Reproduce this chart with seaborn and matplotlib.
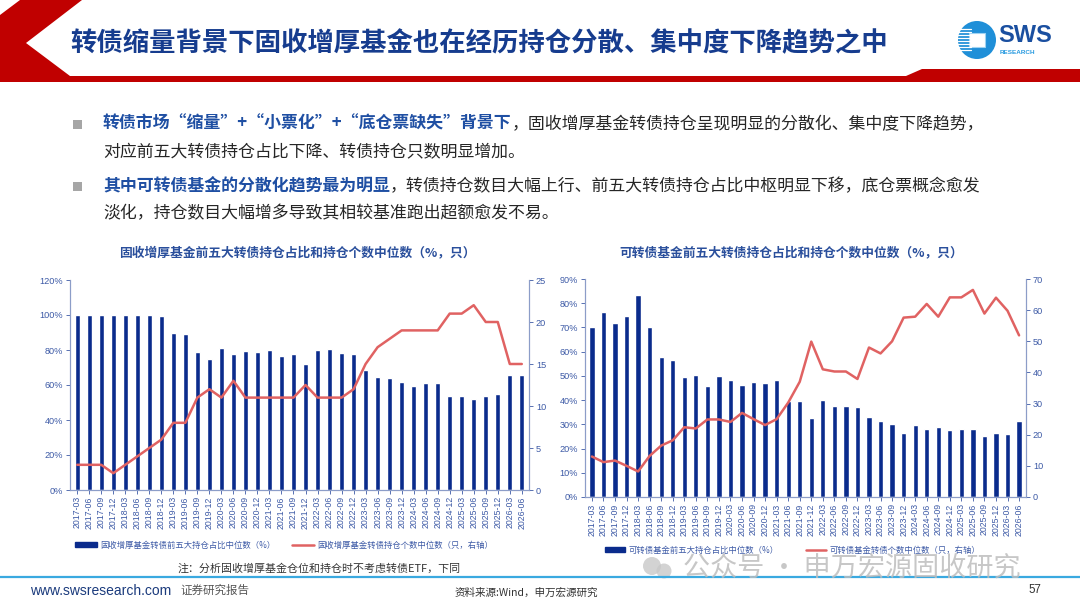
import numpy as np
import matplotlib
matplotlib.use('Agg')
import matplotlib.pyplot as plt
import seaborn as sns
from matplotlib.patches import Polygon, Rectangle, Circle, Patch
from matplotlib.lines import Line2D
from matplotlib.ticker import FuncFormatter

# ---- data ----
quarters = ['2017-03', '2017-06', '2017-09', '2017-12', '2018-03', '2018-06', '2018-09', '2018-12',
            '2019-03', '2019-06', '2019-09', '2019-12', '2020-03', '2020-06', '2020-09', '2020-12',
            '2021-03', '2021-06', '2021-09', '2021-12', '2022-03', '2022-06', '2022-09', '2022-12',
            '2023-03', '2023-06', '2023-09', '2023-12', '2024-03', '2024-06', '2024-09', '2024-12',
            '2025-03', '2025-06', '2025-09', '2025-12', '2026-03', '2026-06']

# 固收增厚基金
zs_top5 = [100, 100, 100, 100, 100, 100, 100, 99.5, 89.5, 89, 79, 75, 81, 78, 79.5, 79, 80, 76.5, 77.5,
           72, 80, 80.5, 78.5, 78, 68.5, 64.5, 64, 62, 59.5, 61, 61, 54, 54, 52, 54, 55, 65.5, 66]
zs_count = [3, 3, 3, 2, 3, 4, 5, 6, 8, 8, 11, 12, 11, 13, 11, 11, 11, 11, 11, 12.5, 11, 11, 11, 12,
            15, 17, 18, 19, 19, 19, 19, 21, 21, 22, 20, 20, 15, 15]

# 可转债基金
kz_top5 = [70.3, 76.2, 71.8, 74.8, 83.2, 70.3, 57.7, 56.4, 49.6, 50.3, 45.9, 50, 48.3, 46.2, 47.6,
           47.2, 48.5, 39.8, 39.8, 32.5, 40, 37.5, 37.7, 37.1, 32.9, 31.5, 30.1, 26.6, 29.8, 28,
           28.7, 27.6, 28, 28.2, 25.2, 26.6, 25.9, 31.5]
kz_count = [13, 11.2, 11.7, 10, 8.2, 13.2, 16.5, 18.2, 22.4, 22, 24.9, 24.9, 24.1, 27, 25, 23.1, 25,
            30.3, 37, 49.9, 41, 40.3, 40.3, 37.9, 48, 46.1, 50, 57.6, 57.9, 62, 57.9, 64.1, 64.1,
            66.5, 58.9, 64, 59.8, 51.9]

BAR = '#0a2b8c'
RED = '#e06262'
TICK = '#3d5aa6'
SPINE = '#8c9dc8'
TITLE = '#163c8e'
BLUE_TXT = '#1f4fa3'

sns.set_theme(style='white')
plt.rcParams['font.family'] = ['Noto Sans CJK SC', 'DejaVu Sans']
plt.rcParams['axes.unicode_minus'] = False

fig = plt.figure(figsize=(10.8, 6.08), dpi=100)

# background canvas in pixel coordinates
bg = fig.add_axes([0, 0, 1, 1])
bg.set_xlim(0, 1080)
bg.set_ylim(608, 0)
bg.axis('off')

# header red chevron + band
bg.add_patch(Polygon([(0, 15), (20, 0), (82, 0), (26, 43), (70, 76), (906, 76), (922, 69),
                      (1080, 69), (1080, 82), (0, 82)], closed=True, color='#c00000', lw=0))
bg.text(70, 44, '转债缩量背景下固收增厚基金也在经历持仓分散、集中度下降趋势之中',
        fontsize=19, fontweight='bold', color=TITLE, va='center', ha='left')

# logo
bg.add_patch(Circle((977, 40), 19, color='#1f8fd8', lw=0))
for yy in range(29, 53, 3):
    bg.plot([958, 971], [yy, yy], color='white', lw=0.9)
bg.add_patch(Rectangle((969, 33), 16, 14, facecolor='white', edgecolor='#9fd3f2', lw=0.8))
bg.text(998, 36, 'SWS', fontsize=17, fontweight='bold', color='#1a4fa0', va='center',
        ha='left', family='Liberation Sans')
bg.text(1000, 52, 'RESEARCH', fontsize=4.6, fontweight='bold', color='#2a9be0', va='center',
        ha='left', family='Liberation Sans')

# bullets
renderer = fig.canvas.get_renderer()


def rich_line(x, y, parts, size=12.2):
    for txt, bold in parts:
        t = bg.text(x, y, txt, fontsize=size, va='center', ha='left',
                    fontweight='bold' if bold else 'normal',
                    color=BLUE_TXT if bold else '#262626')
        bb = t.get_window_extent(renderer=renderer)
        x = bg.transData.inverted().transform((bb.x1, bb.y0))[0]


for yy in (124, 186):
    bg.add_patch(Rectangle((73, yy - 4.5), 9, 9, color='#a6a6a6', lw=0))

rich_line(103, 124, [('转债市场“缩量”+“小票化”+“底仓票缺失”背景下', True),
                     ('，固收增厚基金转债持仓呈现明显的分散化、集中度下降趋势，', False)])
rich_line(103, 152, [('对应前五大转债持仓占比下降、转债持仓只数明显增加。', False)])
rich_line(103, 186, [('其中可转债基金的分散化趋势最为明显', True),
                     ('，转债持仓数目大幅上行、前五大转债持仓占比中枢明显下移，底仓票概念愈发', False)])
rich_line(103, 213, [('淡化，持仓数目大幅增多导致其相较基准跑出超额愈发不易。', False)])

# chart titles
bg.text(297, 253, '固收增厚基金前五大转债持仓占比和持仓个数中位数（%，只）', fontsize=9.2,
        fontweight='bold', color='#2a4f9c', ha='center', va='center')
bg.text(791, 253, '可转债基金前五大转债持仓占比和持仓个数中位数（%，只）', fontsize=9.2,
        fontweight='bold', color='#2a4f9c', ha='center', va='center')


def draw_panel(rect, top5, counts, lmax, lstep, rmax, rstep, width):
    ax = fig.add_axes(rect)
    sns.barplot(x=quarters, y=top5, color=BAR, saturation=1, width=width, ax=ax)
    ax.set_xlim(-0.6, len(quarters) - 0.4)
    ax.set_ylim(0, lmax)
    ax.set_yticks(np.arange(0, lmax + 0.1, lstep))
    ax.yaxis.set_major_formatter(FuncFormatter(lambda v, p: f'{v:.0f}%'))
    ax.set_xlabel('')
    ax.set_ylabel('')
    ax.tick_params(axis='x', rotation=90, labelsize=6.3, colors=TICK, length=3, width=0.6,
                   direction='out', pad=1.5, bottom=True)
    ax.tick_params(axis='y', labelsize=6.6, colors=TICK, length=3, width=0.6, direction='out',
                   pad=2, left=True)
    for lab in ax.get_xticklabels() + ax.get_yticklabels():
        lab.set_family('Liberation Sans')
    ax.grid(False)

    ax2 = ax.twinx()
    sns.lineplot(x=np.arange(len(quarters)), y=counts, color=RED, lw=1.8, ax=ax2)
    ax2.set_ylim(0, rmax)
    ax2.set_yticks(np.arange(0, rmax + 0.1, rstep))
    ax2.tick_params(axis='y', labelsize=6.6, colors=TICK, length=3, width=0.6, direction='out',
                    pad=2, right=True)
    for lab in ax2.get_yticklabels():
        lab.set_family('Liberation Sans')
    ax2.grid(False)
    ax2.set_ylabel('')

    for a in (ax, ax2):
        a.spines['top'].set_visible(False)
        for s in ('left', 'right', 'bottom'):
            a.spines[s].set_color(SPINE)
            a.spines[s].set_linewidth(0.8)
        a.set_facecolor('none')
    return ax, ax2


axL, axL2 = draw_panel([70 / 1080, 1 - 490 / 608, 459 / 1080, 210 / 608],
                       zs_top5, zs_count, 120, 20, 25, 5, 0.42)
axR, axR2 = draw_panel([585 / 1080, 1 - 497 / 608, 441 / 1080, 218 / 608],
                       kz_top5, kz_count, 90, 10, 70, 10, 0.46)

# legends
fig.legend(handles=[Patch(color=BAR), Line2D([], [], color=RED, lw=1.8)],
           labels=['固收增厚基金转债前五大持仓占比中位数（%）', '固收增厚基金转债持仓个数中位数（只，右轴）'],
           loc='center left', bbox_to_anchor=(75 / 1080, 1 - 545 / 608), ncol=2, frameon=False,
           fontsize=6, labelcolor=TICK, handlelength=2.6, handleheight=0.5, handletextpad=0.4,
           columnspacing=2.0, borderpad=0, borderaxespad=0)
fig.legend(handles=[Patch(color=BAR), Line2D([], [], color=RED, lw=1.8)],
           labels=['可转债基金前五大持仓占比中位数（%）', '可转债基金转债个数中位数（只，右轴）'],
           loc='center left', bbox_to_anchor=(605 / 1080, 1 - 550 / 608), ncol=2, frameon=False,
           fontsize=6, labelcolor=TICK, handlelength=2.4, handleheight=0.5, handletextpad=0.4,
           columnspacing=3.3, borderpad=0, borderaxespad=0)

# note, watermark, footer
bg.text(178, 569, '注：分析固收增厚基金仓位和持仓时不考虑转债ETF，下同', fontsize=7.9,
        color='#333333', ha='left', va='center')
bg.add_patch(Circle((652, 566), 9, color='#c8c8c8', alpha=0.8, lw=0))
bg.add_patch(Circle((664, 571), 7.5, color='#c8c8c8', alpha=0.8, lw=0))
bg.text(683, 568, '公众号 · 申万宏源固收研究', fontsize=19.5, color='#bdbdbd', alpha=0.85,
        ha='left', va='center')

bg.plot([0, 1080], [577, 577], color='#3aa9e0', lw=1.6)
bg.text(30, 591, 'www.swsresearch.com', fontsize=10, color='#1a3a7c', ha='left', va='center',
        family='Liberation Sans')
bg.text(180, 590, '证券研究报告', fontsize=8.3, color='#555555', ha='left', va='center')
bg.text(455, 593, '资料来源:Wind，申万宏源研究', fontsize=7.6, color='#333333', ha='left',
        va='center')
bg.text(1028, 590, '57', fontsize=8.3, color='#333333', ha='left', va='center',
        family='Liberation Sans')

fig.savefig('out.png', dpi=100)
